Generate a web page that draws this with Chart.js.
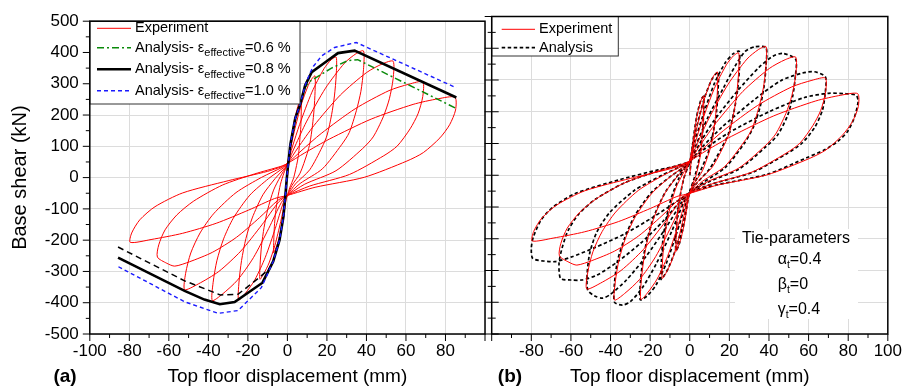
<!DOCTYPE html>
<html>
<head>
<meta charset="utf-8">
<script src="https://cdn.jsdelivr.net/npm/chart.js@4.4.1/dist/chart.umd.min.js"></script>
<style>
  html, body { margin: 0; padding: 0; background: #fff; }
  #wrap { position: relative; width: 909px; height: 389px; }
  #boxA { position: absolute; left: 0; top: 0; width: 492px; height: 389px; }
  #boxB { position: absolute; left: 440px; top: 0; width: 469px; height: 389px; }
</style>
</head>
<body>
<div id="wrap">
  <div id="boxA"><canvas id="chartA"></canvas></div>
  <div id="boxB"><canvas id="chartB"></canvas></div>
</div>
<script>
// experiment: cycles of growing amplitude (mm, kN)
const expX = [
  0, 1.8, 3.5, 5.3, 6.3, 7,
  7, 6.8, 6.3, 5.7, 5, 3.2, 1.2, 0,
  -0.6, -1.7, -3.2, -4.7, -6.1, -7,
  -6.9, -6.6, -6, -5, -3.5, -1.8, -0.4, 0,
  1.4, 3.5, 7, 10.5, 12.6, 14,
  14, 13.5, 12.7, 11.4, 10, 6.4, 2.3, 0,
  -1.1, -3.4, -6.3, -9.3, -12.1, -13.9,
  -13.8, -13.1, -11.8, -10, -7, -3.5, -0.7, 0,
  2.5, 6.2, 12.4, 18.5, 22.2, 24.7,
  24.7, 23.8, 22.4, 20.1, 17.6, 11.3, 4.1, 0,
  -2, -6.1, -11.2, -16.5, -21.4, -24.7,
  -24.5, -23.2, -21, -17.8, -12.4, -6.2, -1.2, 0,
  3.9, 9.6, 19.3, 28.9, 34.7, 38.5,
  38.5, 37.2, 34.9, 31.3, 27.4, 17.7, 6.4, 0,
  -3.1, -9.4, -17.2, -25.3, -33, -38,
  -37.6, -35.7, -32.3, -27.4, -19, -9.5, -1.9, 0,
  5.4, 13.4, 26.8, 40.1, 48.2, 53.5,
  53.5, 51.6, 48.5, 43.4, 38.1, 24.6, 8.8, 0,
  -4.3, -12.9, -23.6, -34.7, -45.1, -52,
  -51.5, -48.9, -44.2, -37.4, -26, -13, -2.6, 0,
  6.9, 17.1, 34.3, 51.4, 61.7, 68.5,
  68.5, 66.1, 62.1, 55.6, 48.8, 31.4, 11.3, 0,
  -4.7, -14.1, -25.8, -38, -49.5, -57, -61, -65.8,
  -65.1, -61.9, -55.9, -47.4, -32.9, -16.5, -3.3, 0,
  8.5, 21.2, 42.4, 63.6, 76.3, 84.8,
  85.1, 82.1, 77.2, 68.8, 60.5, 38.9, 14, 0,
  -6.5, -19.7, -36, -53, -69, -79.5,
  -78.8, -74.7, -67, -53, -30, -10, -3, 0
];
const expY = [
  0, 110, 182, 228, 245, 250,
  210, 164, 123, 77, 50, 0, -32, -57,
  -69, -114, -166, -205, -229, -240,
  -203, -157, -112, -69, -21, 14, 36, 45,
  88, 148, 233, 294, 318, 325,
  275, 218, 167, 110, 77, 14, -25, -57,
  -75, -141, -216, -273, -309, -325,
  -277, -218, -159, -103, -40, 4, 34, 45,
  98, 170, 273, 348, 377, 385,
  328, 261, 202, 136, 98, 25, -20, -57,
  -79, -162, -255, -327, -371, -391,
  -334, -265, -195, -129, -55, -3, 32, 45,
  101, 178, 286, 366, 396, 405,
  345, 276, 214, 144, 105, 28, -19, -57,
  -80, -162, -256, -328, -373, -393,
  -336, -266, -196, -130, -56, -3, 32, 45,
  96, 166, 264, 336, 364, 372,
  316, 252, 194, 130, 93, 22, -21, -57,
  -77, -151, -235, -300, -340, -358,
  -306, -241, -177, -116, -48, 1, 33, 45,
  85, 141, 220, 278, 299, 306,
  259, 204, 156, 101, 70, 10, -27, -57,
  -72, -128, -191, -239, -269, -283, -274, -254,
  -215, -167, -119, -75, -24, 12, 36, 45,
  78, 123, 187, 234, 252, 257,
  216, 169, 127, 80, 53, 1, -31, -57,
  -67, -104, -146, -178, -198, -207,
  -177, -135, -93, -49, -10, 20, 35, 45
];

// analysis with tie parameters (panel b)
const anaX = [
  0, 1.5, 3.5, 5.5, 7,
  7, 6.5, 5.5, 4, 2, 0,
  -1.5, -3.5, -5.5, -7,
  -7, -6.3, -5, -3, -1, 0,
  1.5, 4, 7.5, 11, 13.5, 14.5,
  14.3, 13.5, 12, 9.5, 5.5, 2, 0,
  -1.5, -4, -7.5, -11, -13.5, -14.5,
  -14.3, -13.5, -12, -9.5, -5.5, -2, 0,
  2.5, 6.5, 12.5, 18, 22, 25,
  25, 24, 22.3, 19.5, 16, 10, 3.5, 0,
  -2.5, -6.5, -12, -17, -21.5, -25,
  -24.8, -23.5, -21, -17.5, -12, -6, -1.5, 0,
  3.5, 9, 17, 23, 28, 33, 38.5,
  38.5, 37.5, 35.5, 32, 27.5, 18, 7, 0,
  -3, -9, -17, -24, -30, -34, -38,
  -38, -36.5, -33, -28, -19.5, -10, -2, 0,
  5, 12, 24, 35, 42, 47, 53.5,
  53.3, 52, 49.5, 44.5, 38.5, 25, 9, 0,
  -4, -12, -22, -32, -40, -44, -48, -51.5,
  -51.8, -50.5, -47, -40.5, -28, -14, -3, 0,
  6.5, 16, 32, 46, 57, 63, 68.5,
  68.5, 67, 63, 56.5, 49, 32, 11.5, 0,
  -4.5, -13.5, -25, -37, -47, -54.5, -60, -65.2,
  -66, -64.5, -61.5, -56, -47.5, -33, -16.5, -3.3, 0,
  8, 20, 40, 58, 70, 78, 84,
  85, 83, 79.6, 74.6, 68, 59, 39, 14, 0,
  -6, -18, -33, -48, -60, -68, -74, -79.3,
  -80, -79, -75, -69, -58, -36, -16, -3, 0
];
const anaY = [
  0, 100, 185, 235, 248,
  200, 140, 80, 30, -15, -50,
  -100, -170, -220, -238,
  -190, -130, -70, -10, 25, 40,
  95, 165, 245, 300, 322, 325,
  270, 200, 140, 75, 15, -30, -55,
  -95, -165, -240, -295, -322, -328,
  -270, -200, -140, -75, -10, 28, 42,
  105, 185, 290, 355, 383, 390,
  330, 262, 200, 130, 85, 20, -25, -55,
  -100, -180, -280, -345, -380, -392,
  -330, -260, -190, -120, -50, 0, 32, 43,
  100, 180, 275, 345, 390, 405, 402,
  345, 280, 215, 150, 100, 25, -22, -55,
  -85, -175, -280, -355, -398, -409, -400,
  -340, -270, -200, -130, -55, -5, 30, 43,
  100, 170, 265, 340, 375, 384, 365,
  310, 250, 190, 128, 90, 20, -22, -55,
  -85, -165, -255, -330, -375, -387, -380, -362,
  -310, -245, -180, -118, -48, 0, 32, 43,
  90, 150, 235, 298, 322, 326, 310,
  265, 205, 150, 100, 68, 10, -27, -55,
  -80, -145, -215, -275, -315, -330, -330, -325,
  -277, -230, -175, -122, -75, -24, 12, 36, 44,
  85, 135, 200, 245, 258, 257, 252,
  232, 180, 137, 106, 80, 55, 3, -30, -55,
  -80, -130, -185, -228, -258, -272, -270, -262,
  -230, -195, -140, -100, -58, -15, 17, 33, 43
];

// envelopes, panel a
const env08X = [-85.7, -52, -42, -34.2, -26.7, -12.6, -7.2, -4, -2, -0.8, 0, 1.5, 4, 6.5, 9, 12.3, 19, 25.6, 34, 85.5];
const env08Y = [-256, -362, -390, -405, -398, -336, -268, -200, -125, -40, 20, 106, 190, 235, 295, 337, 368, 398, 406, 256];
const env10X = [-85.5, -52, -35, -25, -13.2, -7.2, -4, -2, -0.8, 0, 1.5, 4, 6.5, 9, 11.5, 13.2, 17.3, 23.9, 34.8, 85.5];
const env10Y = [-285, -397, -434, -425, -352, -268, -200, -125, -40, 20, 106, 190, 235, 295, 335, 356, 389, 416, 432, 287];
const env06PosX = [6.5, 9, 10.7, 22.3, 30.6, 35.6, 85.5];
const env06PosY = [235, 288, 305, 350, 374, 377, 221];
const env06NegX = [-85.7, -52, -34, -25, -13.5, -9];
const env06NegY = [-222, -330, -375, -373, -316, -290];

const legendA = ['Experiment', '0.6', '0.8', '1.0'];
const legendB = ['Experiment', 'Analysis'];
const tieParams = [['α', '0.4'], ['β', '0'], ['γ', '0.4']];

const pts = (xs, ys) => xs.map((x, i) => ({ x: x, y: ys[i] }));

const FONT = '"Liberation Sans", Arial, sans-serif';
Chart.defaults.font.family = FONT;
Chart.defaults.color = '#000';

function xAxis(hide) {
  return {
    type: 'linear', min: -100, max: 100,
    ticks: { stepSize: 20, autoSkip: false, maxRotation: 0, padding: 7, font: { size: 17 },
      callback: v => v === hide ? '' : v },
    grid: { color: '#dcdcdc', drawTicks: false },
    border: { display: false },
    title: { display: true, text: 'Top floor displacement (mm)', font: { size: 19 }, padding: { top: 0, bottom: 1 } },
    afterFit: s => { s.height = 55; }
  };
}

function yAxis(width, labels) {
  return {
    type: 'linear', min: -500, max: 500,
    ticks: { stepSize: 100, display: labels, padding: 11, font: { size: 17 } },
    grid: { color: '#dcdcdc', drawTicks: false },
    border: { display: false },
    title: { display: labels, text: 'Base shear (kN)', font: { size: 20 }, padding: { top: 8, bottom: 0 } },
    afterFit: s => { s.width = width; }
  };
}

// frame, major/minor tick marks and the panel letter
const frame = {
  id: 'frame',
  afterDraw(chart, args, opts) {
    const { ctx, chartArea: a, scales: { x, y } } = chart;
    ctx.save();
    ctx.strokeStyle = '#000';
    ctx.lineWidth = 1;
    ctx.beginPath();
    for (let v = -100; v <= 100; v += 10) {
      const px = x.getPixelForValue(v);
      const len = v % 20 === 0 ? 7 : 4;
      ctx.moveTo(px, a.bottom);
      ctx.lineTo(px, a.bottom + len);
    }
    for (let v = -500; v <= 500; v += 50) {
      const py = y.getPixelForValue(v);
      const len = v % 100 === 0 ? 7 : 4;
      ctx.moveTo(a.left - len, py);
      ctx.lineTo(a.left + (opts.both ? len : 0), py);
    }
    ctx.stroke();
    ctx.lineWidth = 1.5;
    ctx.strokeRect(a.left, a.top, a.right - a.left, a.bottom - a.top);
    ctx.fillStyle = '#000';
    ctx.font = 'bold 19px ' + FONT;
    ctx.textAlign = 'center';
    ctx.textBaseline = 'middle';
    ctx.fillText(opts.letter, opts.letterX, 377);
    ctx.restore();
  }
};

function sample(ctx, x0, x1, y, color, width, dash) {
  ctx.save();
  ctx.strokeStyle = color;
  ctx.lineWidth = width;
  ctx.setLineDash(dash);
  ctx.beginPath();
  ctx.moveTo(x0, y);
  ctx.lineTo(x1, y);
  ctx.stroke();
  ctx.restore();
}

const legendPluginA = {
  id: 'legendA',
  afterDatasetsDraw(chart) {
    const { ctx, chartArea: a } = chart;
    ctx.save();
    ctx.fillStyle = '#fff';
    ctx.fillRect(a.left, a.top, 300 - a.left, 104 - a.top);
    ctx.strokeStyle = '#333';
    ctx.lineWidth = 1;
    ctx.strokeRect(a.left, a.top, 300 - a.left, 104 - a.top);
    const rows = [28.3, 47.7, 69.3, 90.7];
    const ds = chart.data.datasets;
    const styles = [ds[4], ds[2], ds[1], ds[0]];
    rows.forEach((ry, i) => {
      sample(ctx, 97, 131, ry, styles[i].borderColor, styles[i].borderWidth, styles[i].borderDash || []);
    });
    ctx.fillStyle = '#000';
    ctx.textBaseline = 'middle';
    ctx.textAlign = 'left';
    ctx.font = '14.5px ' + FONT;
    ctx.fillText(legendA[0], 135, rows[0]);
    for (let i = 1; i < 4; i++) {
      let tx = 135;
      ctx.font = '14.5px ' + FONT;
      const head = 'Analysis- ε';
      ctx.fillText(head, tx, rows[i]);
      tx += ctx.measureText(head).width;
      ctx.font = '11px ' + FONT;
      ctx.fillText('effective', tx, rows[i] + 5.5);
      tx += ctx.measureText('effective').width;
      ctx.font = '14.5px ' + FONT;
      ctx.fillText('=' + legendA[i] + ' %', tx, rows[i]);
    }
    ctx.restore();
  }
};

const legendPluginB = {
  id: 'legendB',
  beforeDatasetsDraw(chart) {
    const { ctx } = chart;
    ctx.save();
    ctx.fillStyle = '#fff';
    ctx.fillRect(295, 229, 123, 90);
    ctx.restore();
  },
  afterDatasetsDraw(chart) {
    const { ctx, chartArea: a } = chart;
    ctx.save();
    ctx.fillStyle = '#fff';
    ctx.fillRect(a.left, a.top, 178.3 - a.left, 56 - a.top);
    ctx.strokeStyle = '#333';
    ctx.lineWidth = 1;
    ctx.strokeRect(a.left, a.top, 178.3 - a.left, 56 - a.top);
    const ds = chart.data.datasets;
    const rows = [29.3, 47.7];
    rows.forEach((ry, i) => {
      sample(ctx, 61.7, 95, ry, ds[i].borderColor, ds[i].borderWidth, ds[i].borderDash || []);
    });
    ctx.fillStyle = '#000';
    ctx.textBaseline = 'middle';
    ctx.textAlign = 'left';
    ctx.font = '14.5px ' + FONT;
    rows.forEach((ry, i) => ctx.fillText(legendB[i], 99, ry));

    ctx.font = '16px ' + FONT;
    ctx.textAlign = 'center';
    ctx.fillText('Tie-parameters', 356, 239);
    ctx.textAlign = 'left';
    const tRows = [259.5, 284.5, 309.5];
    tieParams.forEach((p, i) => {
      let tx = 337.7;
      ctx.font = '16px ' + FONT;
      ctx.fillText(p[0], tx, tRows[i]);
      tx += ctx.measureText(p[0]).width;
      ctx.font = '10.5px ' + FONT;
      ctx.fillText('t', tx, tRows[i] + 5.5);
      tx += ctx.measureText('t').width;
      ctx.font = '16px ' + FONT;
      ctx.fillText('=' + p[1], tx, tRows[i]);
    });
    ctx.restore();
  }
};

const common = {
  animation: false,
  responsive: true,
  maintainAspectRatio: false,
  plugins: { legend: { display: false }, tooltip: { enabled: false } },
  elements: { point: { radius: 0 } }
};

new Chart(document.getElementById('chartA'), {
  type: 'scatter',
  data: {
    datasets: [
      { data: pts(env10X, env10Y), showLine: true, borderColor: '#1a1aff', borderWidth: 1.4, borderDash: [4, 3], tension: 0 },
      { data: pts(env08X, env08Y), showLine: true, borderColor: '#000', borderWidth: 2.6, tension: 0 },
      { data: pts(env06PosX, env06PosY), showLine: true, borderColor: '#0a8a0a', borderWidth: 1.5, borderDash: [7, 3, 2, 3], tension: 0 },
      { data: pts(env06NegX, env06NegY), showLine: true, borderColor: '#000', borderWidth: 1.5, borderDash: [6, 4], tension: 0 },
      { data: pts(expX, expY), showLine: true, borderColor: '#ff0000', borderWidth: 1, tension: 0.25 }
    ]
  },
  options: Object.assign({}, common, {
    layout: { padding: { top: 16.5, right: 1.2, left: 0, bottom: 0 } },
    scales: { x: xAxis(100), y: yAxis(89.8, true) },
    plugins: Object.assign({}, common.plugins, { frame: { both: false, letter: '(a)', letterX: 65 } })
  }),
  plugins: [legendPluginA, frame]
});

new Chart(document.getElementById('chartB'), {
  type: 'scatter',
  data: {
    datasets: [
      { data: pts(expX, expY), showLine: true, borderColor: '#ff0000', borderWidth: 1, tension: 0.25 },
      { data: pts(anaX, anaY), showLine: true, borderColor: '#000', borderWidth: 1.7, borderDash: [3.5, 2.5], tension: 0.25 }
    ]
  },
  options: Object.assign({}, common, {
    layout: { padding: { top: 16.5, right: 14.7, left: 0, bottom: 0 } },
    scales: { x: xAxis(-100), y: yAxis(51.7, false) },
    plugins: Object.assign({}, common.plugins, { frame: { both: true, letter: '(b)', letterX: 70 } })
  }),
  plugins: [legendPluginB, frame]
});
</script>
</body>
</html>
